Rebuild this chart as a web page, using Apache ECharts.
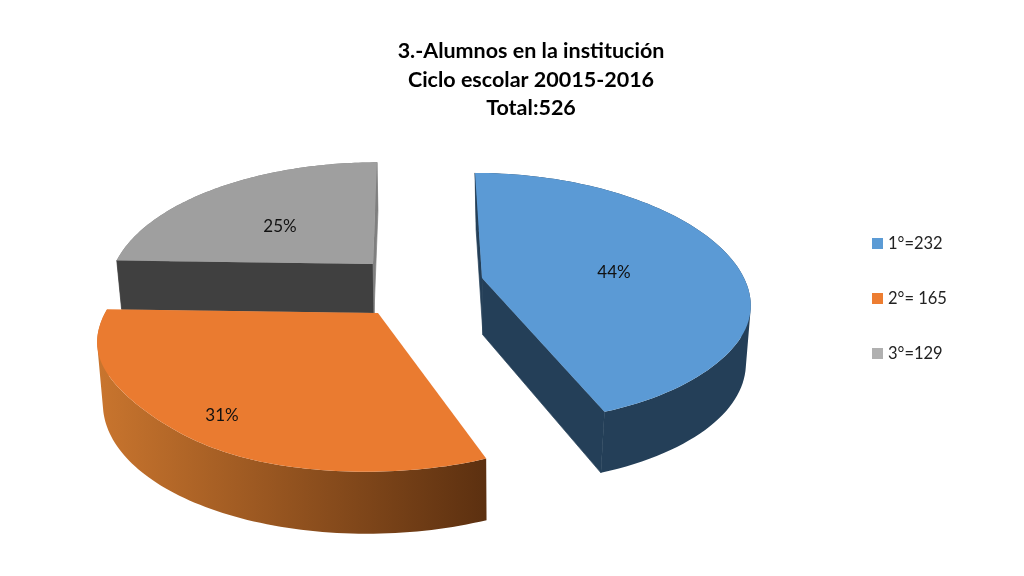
<!DOCTYPE html>
<html>
<head>
<meta charset="utf-8">
<style>html,body{margin:0;padding:0;background:#fff}#c{width:1024px;height:576px}</style>
<script src="https://cdn.jsdelivr.net/npm/echarts@6/dist/echarts.min.js"></script>
</head>
<body>
<div id="c"></div>
<script>
var titleLines = ['3.-Alumnos en la institución', 'Ciclo escolar 20015-2016', 'Total:526'];
var legendLabels = ['1°=232', '2°= 165', '3°=129'];
var students = [232, 165, 129];
var FONT = 'Lato, Carlito, sans-serif';

// Appearance of each exploded 3D slice (not data)
var looks = [
  {apex:[482,278], R:262, kR:122, f:6.2, fx:5, lean:-7, h:57, grow:0.03, shrink:0.98, bx:1, slant:0.02, pinch:3,
   top:'#5b9ad5', legend:'#5b9bd5', rim:['#243f58','#243f58'], startWall:'#243f58', endWall:'#243f58', label:[132,-5], z:2},
  {apex:[378,313], R:273, kR:127, f:5, fx:5, lean:12, h:58, grow:0.025, shrink:0.98, bx:0.5, slant:0, pinch:10,
   top:'#ea7b30', legend:'#ed7d31', rim:['#c9752e','#5c3010'],
   startWall:'none', endWall:'none', label:[-156,103], z:3},
  {apex:[373,264], R:258, kR:122, f:5, fx:5, lean:4, h:49, grow:0, shrink:0.985, bx:1, slant:0, pinch:0,
   top:'#9f9f9f', legend:'#b0b0b0', rim:['#7f7f7f','#7f7f7f'], startWall:'#404040', endWall:'#7f7f7f', label:[-93,-37], z:1}
];

var total = students.reduce(function (a, b) { return a + b; }, 0);

function sliceRenderer(idx) {
  var look = looks[idx];
  return function (params, api) {
    var value = api.value(0);
    var before = 0;
    for (var i = 0; i < idx; i++) before += students[i];
    var a0 = before / total * Math.PI * 2, a1 = (before + value) / total * Math.PI * 2;
    var A = look.apex;
    function rimPt(t) {
      var c = Math.cos(t), w = look.f / (look.f + c), wx = look.fx / (look.fx + c);
      return [A[0] + look.R * Math.sin(t) * wx + look.lean * c, A[1] - look.kR * c * w];
    }
    function lower(p) {
      var dy = Math.max(p[1] - A[1], 0);
      return [A[0] + look.bx + (p[0] - A[0]) * look.shrink - dy * look.slant, p[1] + look.h + dy * look.grow];
    }
    // The upper face is drawn slightly tighter at the lower corners than the base rim
    function topPt(t) {
      var p = rimPt(t), s2 = Math.sin(2 * t), dir = Math.sin(t) > 0 ? -1 : 1;
      return [p[0] + dir * look.pinch * s2 * s2 * s2 * s2 * (Math.cos(t) < 0 ? 1 : 0), p[1]];
    }
    var n = 90, base = [], arc = [];
    for (var k = 0; k <= n; k++) {
      var t = a0 + (a1 - a0) * k / n;
      base.push(rimPt(t));
      arc.push(topPt(t));
    }
    var low = base.map(lower), apexLow = lower(A);
    var first = arc[0], last = arc[n];
    var xs = arc.concat(low).map(function (p) { return p[0]; });
    var rimFill = {type:'linear', x:Math.min.apply(null, xs), y:0, x2:Math.max.apply(null, xs), y2:0, global:true,
      colorStops:[{offset:0,color:look.rim[0]},{offset:1,color:look.rim[1]}]};
    // The side wall is one path of same-winding quads: a convex silhouette with no seams
    var d = '';
    for (var q = 0; q < n; q++) {
      var quad = [arc[q], arc[q+1], low[q+1], low[q]], area = 0;
      for (var j = 0; j < 4; j++) {
        var a = quad[j], b = quad[(j + 1) % 4];
        area += a[0] * b[1] - b[0] * a[1];
      }
      if (area < 0) quad.reverse();
      d += 'M' + quad.map(function (p) { return p[0].toFixed(2) + ' ' + p[1].toFixed(2); }).join('L') + 'Z';
    }
    return {type:'group', children:[
      {type:'path', shape:{pathData:d}, style:{fill:rimFill}},
      {type:'polygon', shape:{points:[A, first, low[0], apexLow]}, style:{fill:look.startWall, stroke:look.startWall, lineWidth:0.7}},
      {type:'polygon', shape:{points:[A, last, low[n], apexLow]}, style:{fill:look.endWall, stroke:look.endWall, lineWidth:0.7}},
      {type:'polygon', shape:{points:[A].concat(arc)}, style:{fill:look.top}},
      {type:'text', style:{
        text: Math.round(value / total * 100) + '%',
        x: A[0] + look.label[0], y: A[1] + look.label[1],
        fill:'#111', font:'17px ' + FONT, textAlign:'center', textVerticalAlign:'middle'
      }}
    ]};
  };
}

var chart = echarts.init(document.getElementById('c'), null, {renderer:'canvas'});
chart.setOption({
  animation: false,
  backgroundColor: '#fff',
  title: {
    text: titleLines.join('\n'),
    left: 526, top: 32, textAlign: 'center',
    textStyle: {fontFamily: FONT, fontWeight: 'bold', fontSize: 21.5, lineHeight: 28.5, color: '#000'}
  },
  legend: {
    orient: 'vertical', left: 867, top: 230, itemGap: 38, itemWidth: 11, itemHeight: 11, icon: 'rect',
    selectedMode: false,
    data: legendLabels,
    textStyle: {fontFamily: FONT, fontSize: 16.5, color: '#222'}
  },
  series: students.map(function (v, i) {
    return {
      type: 'custom', name: legendLabels[i], coordinateSystem: 'none', silent: true,
      z: looks[i].z, itemStyle: {color: looks[i].legend},
      data: [[v]], renderItem: sliceRenderer(i)
    };
  })
});
</script>
</body>
</html>
